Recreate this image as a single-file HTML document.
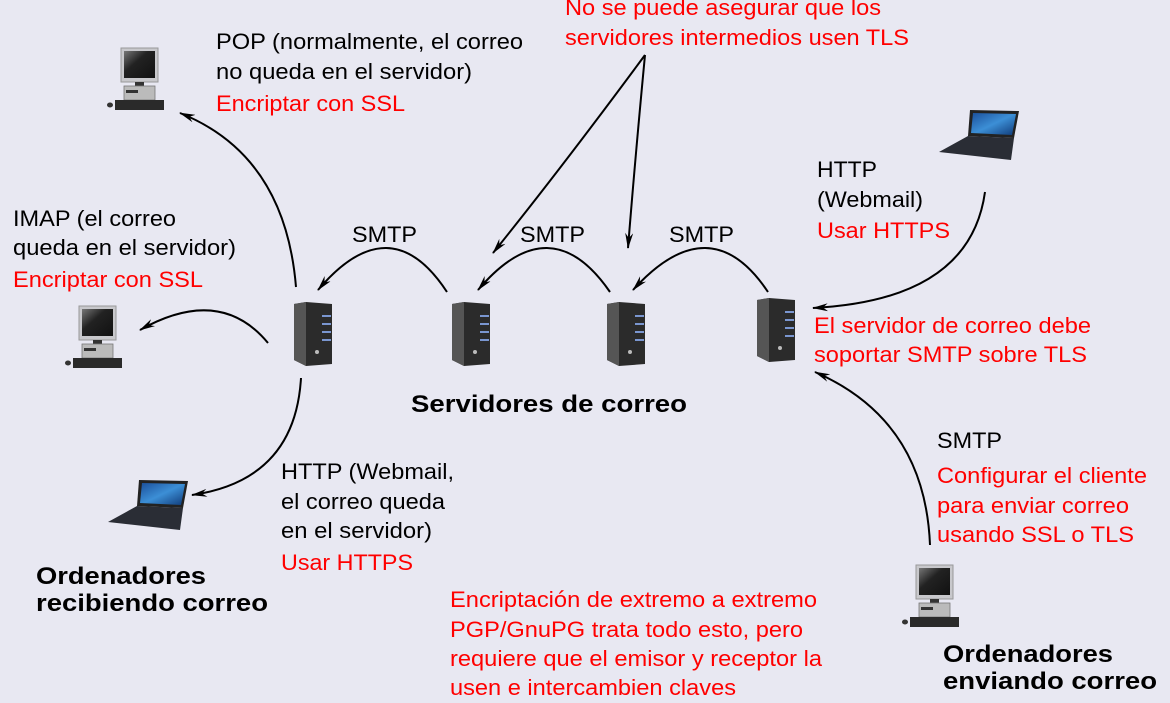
<!DOCTYPE html>
<html><head><meta charset="utf-8"><style>
html,body{margin:0;padding:0;background:#e8e8f2;}
svg{display:block;font-family:"Liberation Sans",sans-serif;}
.t{font-size:22px;fill:#000}
.r{font-size:22px;fill:#ff0000}
.b{font-size:24px;font-weight:bold;fill:#000}
</style></head><body>
<svg width="1170" height="703" viewBox="0 0 1170 703" xmlns="http://www.w3.org/2000/svg">
<defs>
<linearGradient id="scr" x1="0" y1="0" x2="1" y2="1"><stop offset="0" stop-color="#777"/><stop offset="0.4" stop-color="#222"/><stop offset="1" stop-color="#111"/></linearGradient>
<linearGradient id="lap" x1="0" y1="0" x2="1" y2="1"><stop offset="0" stop-color="#1b4f9a"/><stop offset="0.5" stop-color="#3c8fd6"/><stop offset="1" stop-color="#0f3a78"/></linearGradient>
<g id="desk">
<rect x="6" y="0" width="37" height="34" fill="#c8c8cc" stroke="#999" stroke-width="1"/>
<rect x="9" y="3" width="31" height="27" fill="url(#scr)"/>
<rect x="20" y="34" width="9" height="4" fill="#333"/>
<rect x="9" y="38" width="31" height="14" fill="#bbb" stroke="#777" stroke-width="0.8"/>
<rect x="11" y="42" width="12" height="3" fill="#333"/>
<rect x="0" y="52" width="49" height="10" fill="#2a2a2a"/>
<ellipse cx="-5" cy="57" rx="3" ry="2.5" fill="#333"/>
</g>
<g id="srv">
<polygon points="2,2 14,0 40,2 40,62 14,64 2,58" fill="#2b2b2b"/>
<polygon points="2,2 14,0 14,64 2,58" fill="#555"/>
<rect x="30" y="13" width="9" height="2" fill="#7a96d0"/>
<rect x="30" y="21" width="9" height="2" fill="#7a96d0"/>
<rect x="30" y="29" width="9" height="2" fill="#7a96d0"/>
<rect x="30" y="37" width="9" height="2" fill="#7a96d0"/>
<circle cx="25" cy="50" r="2" fill="#bbb"/>
</g>
<g id="lapt">
<polygon points="32,2 81,3 76,30 30,28" fill="#222"/>
<polygon points="35,5 78,6 74,27 33,25" fill="url(#lap)"/>
<polygon points="30,28 76,30 73,52 1,44" fill="#2a2d35"/>
</g>
<marker id="ah" markerWidth="16" markerHeight="8" refX="15" refY="4" orient="auto" markerUnits="userSpaceOnUse">
<path d="M0,0 L16,4 L0,8 L5,4 Z" fill="#000"/>
</marker>
</defs>

<use href="#desk" x="115" y="48"/>
<use href="#desk" x="73" y="306"/>
<use href="#desk" x="910" y="565"/>
<use href="#srv" x="292" y="302"/>
<use href="#srv" x="450" y="302"/>
<use href="#srv" x="605" y="302"/>
<use href="#srv" x="755" y="298"/>
<use href="#lapt" x="107" y="478"/>
<use href="#lapt" x="938" y="108"/>

<g fill="none" stroke="#000" stroke-width="2" marker-end="url(#ah)">
<path d="M296,287 Q285,155 180,113"/>
<path d="M268,343 Q220,285 140,330"/>
<path d="M301,378 Q295,480 192,495"/>
<path d="M447,292 Q390,205 318,290"/>
<path d="M610,292 Q550,205 478,290"/>
<path d="M768,292 Q710,205 633,290"/>
<path d="M645,55 Q560,170 493,253"/>
<path d="M645,55 Q635,160 628,248"/>
<path d="M985,192 Q970,300 813,308"/>
<path d="M930,545 Q925,420 815,372"/>
</g>

<g lengthAdjust="spacingAndGlyphs">
<text class="r" x="565" y="15" textLength="316" lengthAdjust="spacingAndGlyphs">No se puede asegurar que los</text>
<text class="r" x="565" y="45" textLength="344" lengthAdjust="spacingAndGlyphs">servidores intermedios usen TLS</text>
<text class="t" x="216" y="49" textLength="307" lengthAdjust="spacingAndGlyphs">POP (normalmente, el correo</text>
<text class="t" x="216" y="79" textLength="256" lengthAdjust="spacingAndGlyphs">no queda en el servidor)</text>
<text class="r" x="216" y="111" textLength="189" lengthAdjust="spacingAndGlyphs">Encriptar con SSL</text>
<text class="t" x="817" y="177" textLength="60" lengthAdjust="spacingAndGlyphs">HTTP</text>
<text class="t" x="817" y="207" textLength="106" lengthAdjust="spacingAndGlyphs">(Webmail)</text>
<text class="r" x="817" y="238" textLength="133" lengthAdjust="spacingAndGlyphs">Usar HTTPS</text>
<text class="t" x="13" y="226" textLength="163" lengthAdjust="spacingAndGlyphs">IMAP (el correo</text>
<text class="t" x="13" y="255" textLength="223" lengthAdjust="spacingAndGlyphs">queda en el servidor)</text>
<text class="r" x="13" y="287" textLength="190" lengthAdjust="spacingAndGlyphs">Encriptar con SSL</text>
<text class="t" x="352" y="242" textLength="65" lengthAdjust="spacingAndGlyphs">SMTP</text>
<text class="t" x="520" y="242" textLength="65" lengthAdjust="spacingAndGlyphs">SMTP</text>
<text class="t" x="669" y="242" textLength="65" lengthAdjust="spacingAndGlyphs">SMTP</text>
<text class="r" x="814" y="333" textLength="277" lengthAdjust="spacingAndGlyphs">El servidor de correo debe</text>
<text class="r" x="814" y="362" textLength="273" lengthAdjust="spacingAndGlyphs">soportar SMTP sobre TLS</text>
<text class="b" x="411" y="412" textLength="276" lengthAdjust="spacingAndGlyphs">Servidores de correo</text>
<text class="t" x="937" y="448" textLength="65" lengthAdjust="spacingAndGlyphs">SMTP</text>
<text class="r" x="937" y="483" textLength="210" lengthAdjust="spacingAndGlyphs">Configurar el cliente</text>
<text class="r" x="937" y="513" textLength="192" lengthAdjust="spacingAndGlyphs">para enviar correo</text>
<text class="r" x="937" y="542" textLength="197" lengthAdjust="spacingAndGlyphs">usando SSL o TLS</text>
<text class="t" x="281" y="479" textLength="173" lengthAdjust="spacingAndGlyphs">HTTP (Webmail,</text>
<text class="t" x="281" y="509" textLength="164" lengthAdjust="spacingAndGlyphs">el correo queda</text>
<text class="t" x="281" y="538" textLength="151" lengthAdjust="spacingAndGlyphs">en el servidor)</text>
<text class="r" x="281" y="570" textLength="132" lengthAdjust="spacingAndGlyphs">Usar HTTPS</text>
<text class="b" x="36" y="584" textLength="170" lengthAdjust="spacingAndGlyphs">Ordenadores</text>
<text class="b" x="36" y="611" textLength="232" lengthAdjust="spacingAndGlyphs">recibiendo correo</text>
<text class="r" x="450" y="607" textLength="367" lengthAdjust="spacingAndGlyphs">Encriptación de extremo a extremo</text>
<text class="r" x="450" y="637" textLength="353" lengthAdjust="spacingAndGlyphs">PGP/GnuPG trata todo esto, pero</text>
<text class="r" x="450" y="666" textLength="372" lengthAdjust="spacingAndGlyphs">requiere que el emisor y receptor la</text>
<text class="r" x="450" y="695" textLength="286" lengthAdjust="spacingAndGlyphs">usen e intercambien claves</text>
<text class="b" x="943" y="662" textLength="170" lengthAdjust="spacingAndGlyphs">Ordenadores</text>
<text class="b" x="943" y="689" textLength="214" lengthAdjust="spacingAndGlyphs">enviando correo</text>
</g>
</svg>
</body></html>
